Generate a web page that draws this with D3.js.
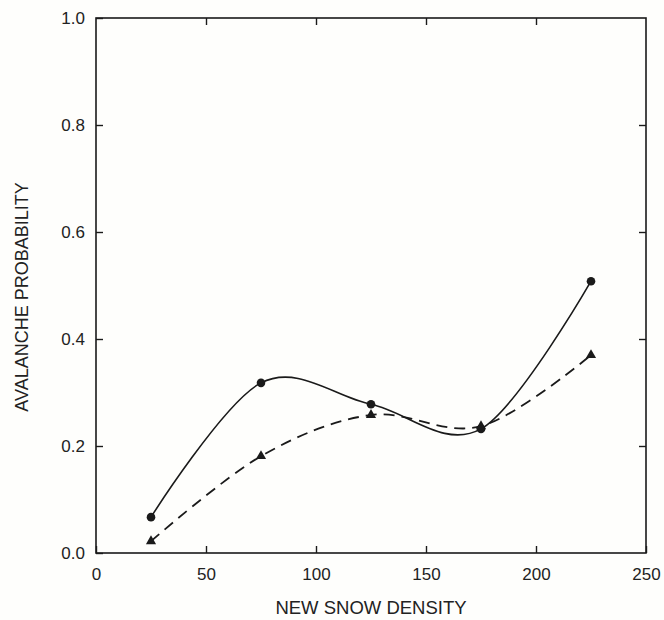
<!DOCTYPE html>
<html>
<head>
<meta charset="utf-8">
<script src="https://cdn.jsdelivr.net/npm/d3@7"></script>
<style>
  body { margin: 0; background: #fff; }
  text { font-family: "Liberation Sans", Arial, sans-serif; fill: #222; }
</style>
</head>
<body>
<div id="chart"></div>
<script>
// data
var density = [25, 75, 125, 175, 225];
var probCircle = [0.067, 0.318, 0.278, 0.232, 0.508];
var probTriangle = [0.022, 0.181, 0.258, 0.237, 0.37];
var xTicks = [0, 50, 100, 150, 200, 250];
var yTicks = [0.0, 0.2, 0.4, 0.6, 0.8, 1.0];

var width = 664;
var height = 620;

var svg = d3.select("#chart").append("svg")
  .attr("width", width)
  .attr("height", height);

svg.append("rect")
  .attr("width", "100%")
  .attr("height", "100%")
  .attr("fill", "#fefefc");

var margin = { top: 18, right: 18, bottom: 67, left: 96 };
var w = width - margin.left - margin.right;
var h = height - margin.top - margin.bottom;

var x = d3.scaleLinear().domain([0, 250]).range([0, w]);
var y = d3.scaleLinear().domain([0, 1]).range([h, 0]);

var g = svg.append("g")
  .attr("transform", "translate(" + margin.left + "," + margin.top + ")");

var ink = "#1a1a1a";
var tickLen = 7;

// frame
g.append("rect")
  .attr("width", w)
  .attr("height", h)
  .attr("fill", "none")
  .attr("stroke", ink)
  .attr("stroke-width", 1.6);

// axes with inward ticks
var xAxis = g.append("g")
  .attr("transform", "translate(0," + h + ")")
  .call(d3.axisBottom(x).tickValues(xTicks).tickSize(-tickLen).tickPadding(tickLen + 8)
    .tickFormat(d3.format("d")));

var xTop = g.append("g")
  .call(d3.axisTop(x).tickValues(xTicks.slice(1, -1)).tickSize(-tickLen).tickFormat(""));

var yAxis = g.append("g")
  .call(d3.axisLeft(y).tickValues(yTicks).tickSize(-tickLen).tickPadding(tickLen + 4)
    .tickFormat(d3.format(".1f")));

var yRight = g.append("g")
  .attr("transform", "translate(" + w + ",0)")
  .call(d3.axisRight(y).tickValues(yTicks.slice(1, -1)).tickSize(-tickLen).tickFormat(""));

[xAxis, xTop, yAxis, yRight].forEach(function (a) {
  a.select(".domain").remove();
  a.selectAll("line").attr("stroke", ink).attr("stroke-width", 1.4);
  a.selectAll("text")
    .style("font-size", "17px")
    .style("font-family", "'Liberation Sans', Arial, sans-serif")
    .attr("fill", "#222");
});

// smooth curves through the points
var line = d3.line()
  .x(function (d) { return x(d[0]); })
  .y(function (d) { return y(d[1]); })
  .curve(d3.curveCardinal.tension(0));

var circlePts = density.map(function (d, i) { return [d, probCircle[i]]; });
var trianglePts = density.map(function (d, i) { return [d, probTriangle[i]]; });

g.append("path")
  .datum(trianglePts)
  .attr("d", line)
  .attr("fill", "none")
  .attr("stroke", ink)
  .attr("stroke-width", 1.8)
  .attr("stroke-dasharray", "11,7");

g.append("path")
  .datum(circlePts)
  .attr("d", line)
  .attr("fill", "none")
  .attr("stroke", ink)
  .attr("stroke-width", 1.6);

g.selectAll(".dot")
  .data(circlePts)
  .enter().append("circle")
  .attr("class", "dot")
  .attr("cx", function (d) { return x(d[0]); })
  .attr("cy", function (d) { return y(d[1]); })
  .attr("r", 4.3)
  .attr("fill", ink);

g.selectAll(".tri")
  .data(trianglePts)
  .enter().append("path")
  .attr("class", "tri")
  .attr("d", d3.symbol().type(d3.symbolTriangle).size(45))
  .attr("transform", function (d) { return "translate(" + x(d[0]) + "," + y(d[1]) + ")"; })
  .attr("fill", ink);

// axis titles
svg.append("text")
  .attr("x", margin.left + w / 2)
  .attr("y", 614)
  .attr("text-anchor", "middle")
  .style("font-size", "18.5px")
  .text("NEW SNOW DENSITY");

svg.append("text")
  .attr("transform", "translate(28,297) rotate(-90)")
  .attr("text-anchor", "middle")
  .style("font-size", "18px")
  .text("AVALANCHE PROBABILITY");
</script>
</body>
</html>
